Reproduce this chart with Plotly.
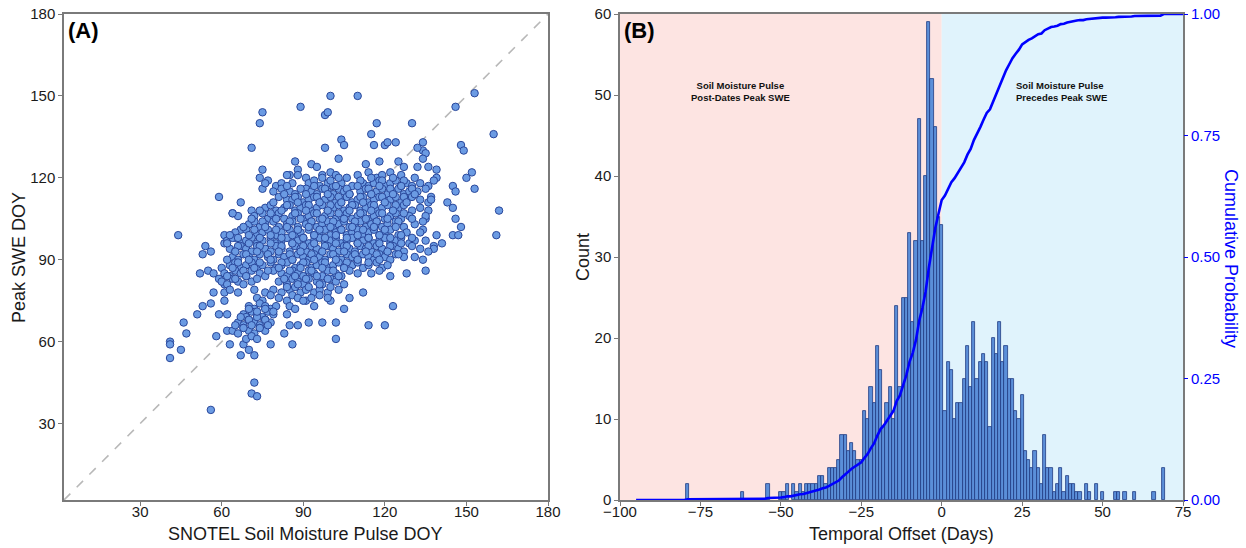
import numpy as np
import plotly.graph_objects as go

# ---------------- Panel A: pulse DOY vs peak SWE DOY ----------------
pulse_doy = [
    41, 41, 41, 45, 44, 46, 47, 51, 52, 53,
    54, 53, 55, 56, 56, 56, 57, 57, 58, 59,
    59, 59, 61, 61, 61, 61, 61, 62, 62, 63,
    64, 65, 66, 67, 68, 70, 72, 71, 72, 71,
    73, 74, 75, 75, 74, 77, 75, 78, 89, 98,
    99, 100, 110, 98, 117, 130, 146, 153, 160, 161,
    162, 148, 149, 150, 152, 153, 145, 146, 143, 145,
    146, 148, 145, 147, 141, 139, 139, 138, 139, 138,
    138, 135, 137, 136, 136, 135, 134, 132, 136, 134,
    134, 135, 132, 134, 128, 123, 120, 114, 112, 122,
    107, 105, 102, 102, 97, 92, 88, 85, 86, 83,
    94, 91, 100, 104, 105, 116, 120, 121, 124, 118,
    115, 127, 125, 113, 103, 87, 93, 95, 88, 85,
    84, 88, 91, 97, 100, 102, 106, 110, 114, 117, 119, 122, 126, 131,
    76, 80, 82, 86, 92, 94, 96, 99, 101, 104, 108, 112, 114, 116, 118, 120, 122, 124, 126, 128, 130, 133, 136,
    79, 82, 85, 87, 91, 93, 95, 97, 99, 101, 103, 105, 107, 111, 113, 115, 117, 119, 121, 123, 125, 127, 129, 132, 135,
    67, 81, 84, 86, 88, 90, 92, 94, 96, 98, 100, 102, 104, 106, 108, 110, 112, 114, 116, 118, 120, 122, 124, 126, 128, 130, 133, 137,
    71, 76, 78, 80, 83, 85, 87, 89, 91, 93, 95, 97, 99, 101, 103, 105, 107, 109, 111, 113, 115, 117, 119, 121, 123, 125, 127, 130, 133,
    64, 72, 75, 77, 79, 81, 83, 86, 88, 90, 92, 94, 96, 98, 100, 102, 104, 106, 108, 110, 112, 114, 116, 118, 120, 122, 124, 126, 129, 135,
    67, 70, 72, 74, 76, 79, 81, 84, 86, 88, 91, 93, 95, 97, 99, 101, 103, 105, 107, 109, 111, 113, 115, 117, 119, 121, 124, 127, 131, 134,
    65, 69, 73, 75, 77, 80, 82, 85, 87, 89, 92, 94, 96, 98, 100, 102, 104, 106, 108, 110, 112, 114, 116, 118, 120, 122, 125, 128, 133,
    62, 64, 67, 69, 71, 73, 75, 78, 80, 82, 84, 86, 88, 90, 92, 94, 96, 98, 100, 102, 104, 106, 108, 110, 112, 114, 116, 118, 120, 122, 124, 126, 129, 131, 135,
    63, 65, 67, 69, 71, 73, 76, 78, 80, 82, 85, 87, 89, 91, 93, 95, 97, 99, 101, 103, 105, 107, 109, 111, 113, 115, 117, 119, 121, 123, 125, 127, 130, 133, 136,
    64, 66, 68, 70, 72, 74, 77, 79, 81, 83, 86, 88, 90, 92, 94, 96, 98, 100, 102, 104, 106, 108, 110, 112, 114, 116, 118, 120, 122, 124, 127, 131, 134,
    60, 63, 65, 67, 69, 71, 73, 75, 78, 80, 82, 84, 87, 89, 91, 93, 95, 97, 99, 101, 103, 105, 108, 110, 112, 114, 117, 119, 121,
    61, 63, 65, 67, 69, 71, 74, 76, 79, 82, 84, 86, 88, 90, 92, 94, 97, 99, 102, 104, 107, 110, 115, 118,
    60, 62, 64, 66, 68, 71, 73, 81, 84, 86, 88, 90, 92, 95, 97, 100, 102, 105,
    63, 66, 72, 76, 79, 82, 85, 87, 89, 91, 94, 96, 99, 103,
    73, 75, 78, 81, 84, 86, 88, 90, 93, 96, 99,
    70, 72, 74, 76, 78, 80, 85, 87,
    68, 69, 71, 73, 75, 77, 79, 84,
    66, 68, 70, 72, 74, 76, 78,
    64, 66, 68, 70, 72, 74, 76,
    69, 71, 73,
    97, 100, 103, 111, 115, 119, 123, 127,
    84, 89, 94, 98, 102, 106, 110, 114, 118, 122, 126, 130,
    83, 87, 91, 95, 99, 103, 107, 111, 115, 119, 123, 127, 131,
    79, 84, 88, 92, 96, 100, 104, 108, 112, 116, 120, 124, 128,
    74, 78, 82, 87, 91, 95, 99, 103, 107, 111, 115, 119, 123, 127,
    71, 75, 80, 85, 89, 93, 97, 101, 105, 109, 113, 117, 121, 125, 130,
    68, 72, 76, 80, 84, 88, 92, 96, 100, 104, 108, 112, 116, 120, 124,
    63, 66, 70, 74, 78, 82, 86, 90, 94, 98, 102, 106, 110, 114, 118, 122, 126, 130,
    62, 66, 70, 74, 78, 82, 86, 90, 94, 98, 102, 106, 110, 114, 118, 122, 126,
    65, 69, 73, 77, 81, 85, 89, 93, 97, 101, 105, 109, 113, 117, 121, 125,
    62, 66, 70, 74, 78, 82, 86, 90, 94, 98, 102, 106, 110, 114, 118,
    64, 68, 72, 77, 81, 85, 89, 93, 97, 101, 105,
    62, 65, 69, 83, 87, 91, 95, 99, 103,
    84, 88, 92, 96, 100,
    67, 70, 73, 76,
    65, 68, 71, 74, 77,
    70, 73, 76, 79,
]
peak_swe_doy = [
    60, 59, 54, 57, 99, 67, 63, 70, 85, 92,
    95, 73, 86, 93, 74, 35, 85, 78, 62, 113,
    70, 83, 99, 96, 81, 78, 75, 70, 64, 59,
    107, 98, 106, 55, 59, 57, 55, 131, 45, 41,
    40, 140, 144, 123, 120, 119, 116, 59, 146, 143,
    144, 150, 150, 131, 140, 140, 146, 151, 136, 99,
    108, 132, 130, 120, 122, 116, 117, 115, 111, 109,
    105, 102, 99, 99, 96, 123, 120, 119, 99, 95,
    94, 86, 113, 111, 108, 105, 101, 124, 124, 133,
    130, 129, 131, 127, 85, 73, 66, 66, 78, 84,
    76, 72, 61, 67, 67, 67, 66, 66, 59, 63,
    73, 75, 75, 134, 132, 132, 132, 133, 133, 126,
    136, 124, 126, 125, 127, 126, 125, 124, 123, 121,
    121, 121, 120, 121, 122, 121, 120, 121, 122, 120, 121, 122, 121, 120,
    118, 117, 118, 118, 118, 119, 117, 118, 117, 118, 117, 118, 117, 118, 119, 117, 118, 119, 117, 118, 117, 118, 117,
    115, 116, 115, 114, 116, 115, 114, 116, 115, 114, 116, 115, 114, 115, 116, 114, 115, 116, 114, 115, 116, 114, 115, 115, 116,
    111, 113, 112, 112, 113, 111, 112, 113, 111, 112, 113, 111, 112, 113, 111, 112, 113, 111, 112, 113, 111, 112, 113, 111, 112, 113, 112, 112,
    108, 109, 110, 108, 109, 110, 108, 109, 110, 108, 109, 110, 108, 109, 110, 108, 109, 110, 108, 109, 110, 108, 109, 110, 108, 109, 110, 108, 109,
    107, 106, 107, 105, 106, 107, 105, 106, 107, 105, 106, 107, 105, 106, 107, 105, 106, 107, 105, 106, 107, 105, 106, 107, 105, 106, 107, 105, 106, 106,
    101, 103, 104, 102, 103, 104, 102, 103, 104, 102, 103, 104, 102, 103, 104, 102, 103, 104, 102, 103, 104, 102, 103, 104, 102, 103, 104, 102, 103, 104,
    100, 101, 99, 100, 101, 99, 100, 101, 99, 100, 101, 99, 100, 101, 99, 100, 101, 99, 100, 101, 99, 100, 101, 99, 100, 101, 99, 100, 100,
    97, 98, 96, 97, 98, 96, 97, 98, 96, 97, 98, 96, 97, 98, 96, 97, 98, 96, 97, 98, 96, 97, 98, 96, 97, 98, 96, 97, 98, 96, 97, 98, 96, 97, 97,
    94, 93, 95, 94, 93, 95, 94, 93, 95, 94, 93, 95, 94, 93, 95, 94, 93, 95, 94, 93, 95, 94, 93, 95, 94, 93, 95, 94, 93, 95, 94, 93, 95, 94, 93,
    91, 90, 92, 91, 90, 92, 91, 90, 92, 91, 90, 92, 91, 90, 92, 91, 90, 92, 91, 90, 92, 91, 90, 92, 91, 90, 92, 91, 90, 92, 91, 91, 90,
    87, 88, 89, 87, 88, 89, 87, 88, 89, 87, 88, 89, 87, 88, 89, 87, 88, 89, 87, 88, 89, 87, 88, 89, 87, 88, 89, 87, 88,
    85, 84, 86, 85, 84, 86, 85, 84, 86, 85, 84, 86, 85, 84, 86, 85, 84, 86, 85, 84, 86, 85, 85, 86,
    82, 81, 83, 82, 81, 82, 83, 82, 81, 83, 82, 81, 83, 82, 81, 83, 82, 81,
    79, 78, 79, 78, 79, 78, 79, 80, 78, 79, 78, 79, 78, 79,
    76, 75, 77, 76, 75, 77, 76, 75, 76, 77, 76,
    73, 72, 74, 73, 72, 73, 73, 72,
    70, 69, 71, 70, 69, 71, 70, 70,
    67, 66, 68, 67, 66, 68, 67,
    64, 63, 65, 64, 63, 65, 64,
    61, 62, 61,
    120, 119, 120, 119, 120, 119, 120, 119,
    117, 116, 117, 116, 117, 116, 117, 116, 117, 116, 117, 116,
    114, 113, 114, 113, 114, 113, 114, 113, 114, 113, 114, 113, 114,
    111, 110, 111, 110, 111, 110, 111, 110, 111, 110, 111, 110, 111,
    108, 107, 108, 107, 108, 107, 108, 107, 108, 107, 108, 107, 108, 107,
    105, 104, 105, 104, 105, 104, 105, 104, 105, 104, 105, 104, 105, 104, 105,
    102, 101, 102, 101, 102, 101, 102, 101, 102, 101, 102, 101, 102, 101, 102,
    99, 98, 99, 98, 99, 98, 99, 98, 99, 98, 99, 98, 99, 98, 99, 98, 99, 98,
    96, 95, 96, 95, 96, 95, 96, 95, 96, 95, 96, 95, 96, 95, 96, 95, 96,
    93, 92, 93, 92, 93, 92, 93, 92, 93, 92, 93, 92, 93, 92, 93, 92,
    90, 89, 90, 89, 90, 89, 90, 89, 90, 89, 90, 89, 90, 89, 90,
    87, 86, 87, 86, 87, 86, 87, 86, 87, 86, 87,
    84, 83, 84, 83, 84, 83, 84, 83, 84,
    80, 81, 80, 81, 80,
    69, 68, 69, 68,
    66, 65, 66, 65, 66,
    72, 71, 72, 71,
]
assert len(pulse_doy) == len(peak_swe_doy)

# ---------------- Panel B: temporal offset histogram ----------------
offset_days = [
    -79, -62, -54, -50, -49, -48, -46, -45, -44, -43, -42, -41, -40, -39, -38, -37, -36,
    -35, -34, -33, -32, -31, -30, -29, -28, -27, -26, -25, -24, -23, -22, -21, -20, -19,
    -18, -17, -16, -15, -14, -13, -12, -11, -10, -9, -8, -7, -6, -5, -4, -3, -2, -1, 0,
    1, 2, 3, 4, 5, 6, 7, 8, 9, 10, 11, 12, 13, 14, 15, 16, 17, 18, 19, 20,
    21, 22, 23, 24, 25, 26, 27, 28, 29, 30, 31, 32, 33, 34, 35, 36, 37, 38, 39, 40,
    41, 42, 43, 45, 46, 48, 50, 54, 55, 57, 60, 66, 69,
]
offset_counts = [
    2, 1, 2, 1, 1, 2, 2, 1, 2, 1, 2, 2, 2, 2, 3, 3, 2,
    4, 4, 4, 5, 8, 8, 6, 7, 6, 5, 5, 11, 10, 14, 12, 19, 16,
    9, 12, 14, 10, 24, 14, 25, 25, 33, 22, 32, 47, 32, 40, 59, 52, 46, 35, 34,
    11, 17, 16, 10, 12, 12, 15, 19, 14, 22, 15, 17, 18, 17, 9, 20, 18, 22, 17, 19,
    15, 15, 11, 10, 13, 6, 5, 4, 6, 4, 2, 8, 4, 4, 1, 2, 4, 1, 3, 2,
    2, 1, 1, 2, 1, 2, 1, 1, 1, 1, 1, 1, 4,
]
assert len(offset_days) == len(offset_counts)

doy_ticks = [30, 60, 90, 120, 150, 180]
offset_ticks = [-100, -75, -50, -25, 0, 25, 50, 75]
count_ticks = [0, 10, 20, 30, 40, 50, 60]
prob_ticks = [0.0, 0.25, 0.50, 0.75, 1.0]

# ---------------- geometry / styling ----------------
W, H = 1246, 548


def fx(p):
    return p / W


def fy(p):
    return 1 - p / H


A_LEFT, A_RIGHT = 64, 548
B_LEFT, B_RIGHT = 620, 1183
TOP, BOTTOM = 14, 500

doy_range = [2, 180]
offset_range = [-100, 75]
count_range = [0, 60]
ecdf_start, ecdf_end = -95, 75

FONT = "Liberation Sans, Arial, sans-serif"
TEXT = "#1a1a1a"
FRAME = "#7a7a7a"
BLUE = "#0000ff"

# empirical cumulative distribution of the offsets
days = np.array(offset_days)
cnts = np.array(offset_counts)
ecdf_x = np.arange(ecdf_start, ecdf_end + 1)
ecdf_y = np.array([cnts[days <= k].sum() for k in ecdf_x]) / cnts.sum()

fig = go.Figure()

# 1:1 reference line
fig.add_trace(go.Scatter(
    x=doy_range, y=doy_range, mode="lines",
    line=dict(color="#b8b8b8", width=1.6, dash="dash"),
    xaxis="x", yaxis="y", hoverinfo="skip", showlegend=False,
))
fig.add_trace(go.Scatter(
    x=pulse_doy, y=peak_swe_doy, mode="markers",
    marker=dict(size=7.5, color="#6b9be3", line=dict(color="#29479b", width=1)),
    xaxis="x", yaxis="y", showlegend=False,
))
fig.add_trace(go.Bar(
    x=offset_days, y=offset_counts, width=1,
    marker=dict(color="#5b8fd9", line=dict(color="#1f3b82", width=0.8)),
    xaxis="x2", yaxis="y2", showlegend=False,
))
fig.add_trace(go.Scatter(
    x=ecdf_x, y=ecdf_y, mode="lines",
    line=dict(color=BLUE, width=2.6),
    xaxis="x2", yaxis="y3", showlegend=False,
))

axis_common = dict(
    showgrid=False, zeroline=False, showline=True, mirror=True,
    linecolor=FRAME, linewidth=1.5, ticks="outside", ticklen=4,
    tickcolor=FRAME, tickwidth=1, automargin=False,
    tickfont=dict(family=FONT, size=15, color=TEXT),
)
x_axis_extra = dict(ticklabelstandoff=-7)

fig.update_layout(
    width=W, height=H,
    margin=dict(l=0, r=0, t=0, b=0, pad=0),
    paper_bgcolor="white", plot_bgcolor="white",
    font=dict(family=FONT, color=TEXT),
    xaxis=dict(domain=[fx(A_LEFT), fx(A_RIGHT)], range=doy_range,
               tickvals=doy_ticks, anchor="y", **axis_common, **x_axis_extra),
    yaxis=dict(domain=[fy(BOTTOM), fy(TOP)], range=doy_range,
               tickvals=doy_ticks, anchor="x", **axis_common),
    xaxis2=dict(domain=[fx(B_LEFT), fx(B_RIGHT)], range=offset_range,
                tickvals=offset_ticks, anchor="y2", **axis_common, **x_axis_extra),
    yaxis2=dict(domain=[fy(BOTTOM), fy(TOP)], range=count_range,
                tickvals=count_ticks, anchor="x2", **axis_common),
    yaxis3=dict(overlaying="y2", side="right", anchor="x2", range=[0, 1],
                tickvals=prob_ticks,
                ticktext=[f"{v:.2f}" for v in prob_ticks],
                showgrid=False, zeroline=False, showline=False,
                ticks="outside", ticklen=4, tickcolor=BLUE, automargin=False,
                tickfont=dict(family=FONT, size=15, color=BLUE)),
    bargap=0,
)

# shaded halves of panel B
fig.add_shape(type="rect", xref="x2", yref="y2 domain",
              x0=offset_range[0], x1=0, y0=0, y1=1,
              fillcolor="#fde4e2", line=dict(width=0), layer="below")
fig.add_shape(type="rect", xref="x2", yref="y2 domain",
              x0=0, x1=offset_range[1], y0=0, y1=1,
              fillcolor="#e0f3fc", line=dict(width=0), layer="below")

title_font = dict(family=FONT, size=18, color=TEXT)
annotations = [
    dict(text="<b>(A)</b>", x=fx(66), y=fy(31), xanchor="left", yanchor="middle",
         font=dict(family=FONT, size=22, color="#000")),
    dict(text="<b>(B)</b>", x=fx(622), y=fy(31), xanchor="left", yanchor="middle",
         font=dict(family=FONT, size=22, color="#000")),
    dict(text="SNOTEL Soil Moisture Pulse DOY", x=fx(305), y=fy(534),
         xanchor="center", yanchor="middle", font=title_font),
    dict(text="Peak SWE DOY", x=fx(19), y=fy(258), textangle=-90,
         xanchor="center", yanchor="middle", font=title_font),
    dict(text="Temporal Offset (Days)", x=fx(901), y=fy(534),
         xanchor="center", yanchor="middle", font=title_font),
    dict(text="Count", x=fx(583), y=fy(257), textangle=-90,
         xanchor="center", yanchor="middle", font=title_font),
    dict(text="Cumulative Probability", x=fx(1231), y=fy(258), textangle=90,
         xanchor="center", yanchor="middle",
         font=dict(family=FONT, size=18, color=BLUE)),
]
for a in annotations:
    a.update(xref="paper", yref="paper", showarrow=False)

note_font = dict(family="Liberation Sans Narrow, Arial Narrow, " + FONT, size=9.5, color="#111")
annotations += [
    dict(text="<b>Soil Moisture Pulse<br>Post-Dates Peak SWE</b>", x=-62.5, y=50.4,
         xref="x2", yref="y2", showarrow=False, font=note_font, align="center"),
    dict(text="<b>Soil Moisture Pulse<br>Precedes Peak SWE</b>", x=37.2, y=50.4,
         xref="x2", yref="y2", showarrow=False, font=note_font, align="left"),
]
fig.update_layout(annotations=annotations)

fig.write_html("out.html")
